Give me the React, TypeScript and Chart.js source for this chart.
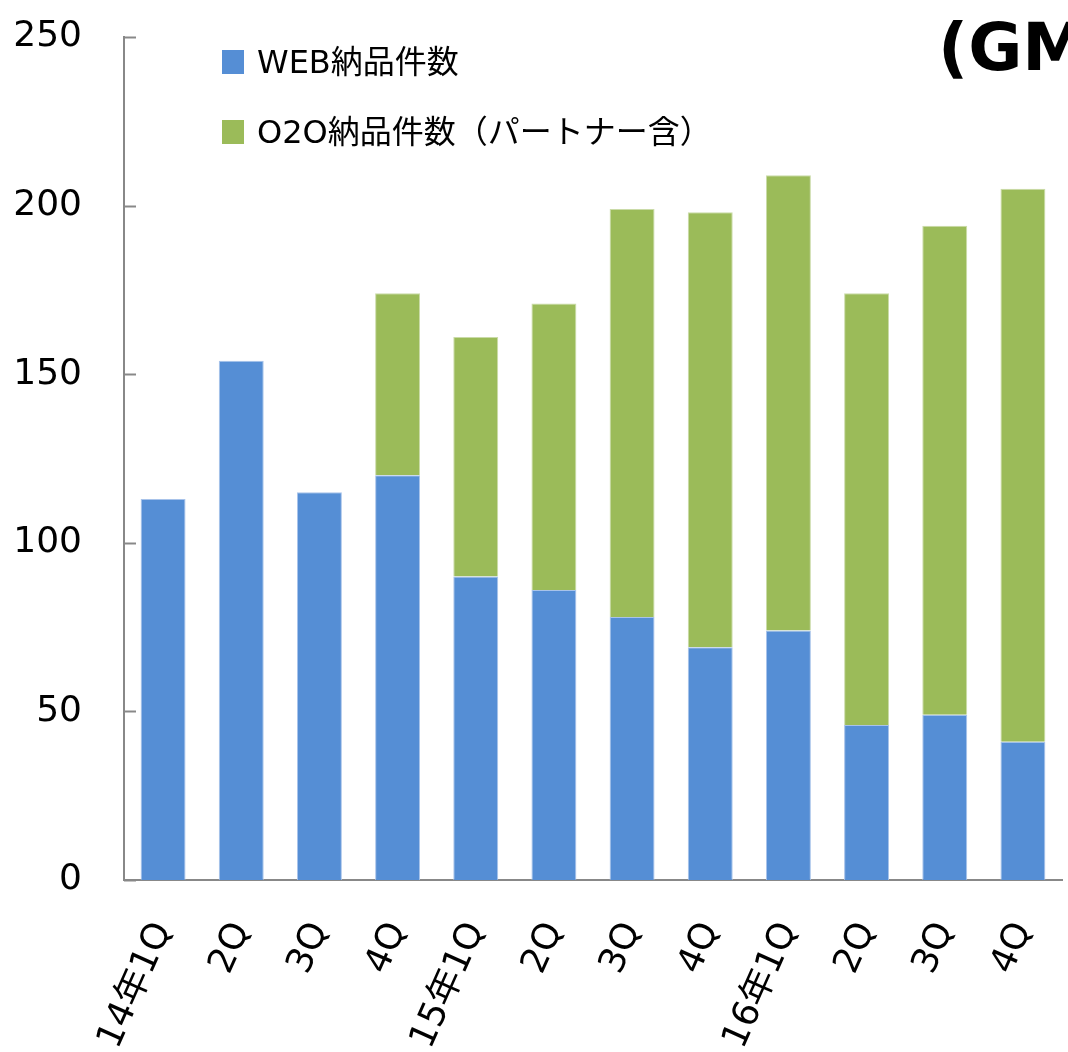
import React, { useEffect, useRef } from "react";
import { Chart, registerables } from "chart.js";

Chart.register(...registerables);

const categories = ["14年1Q", "2Q", "3Q", "4Q", "15年1Q", "2Q", "3Q", "4Q", "16年1Q", "2Q", "3Q", "4Q"];
const webValues = [113, 154, 115, 120, 90, 86, 78, 69, 74, 46, 49, 41];
const o2oValues = [0, 0, 0, 54, 71, 85, 121, 129, 135, 128, 145, 164];
const yTicks = [0, 50, 100, 150, 200, 250];
const seriesNames = ["WEB納品件数", "O2O納品件数（パートナー含）"];
const seriesColors = ["#558ED5", "#9BBB59"];
const titleText = "(GM";

const FONT = "'DejaVu Sans', 'Noto Sans CJK JP', sans-serif";

const innerTicks = {
  id: "innerTicks",
  afterDraw(chart: any) {
    const { ctx, scales, chartArea } = chart;
    const y = scales.y;
    ctx.save();
    ctx.strokeStyle = "#888888";
    ctx.lineWidth = 2;
    yTicks.forEach((v) => {
      const py = Math.round(y.getPixelForValue(v)) + 0.5;
      ctx.beginPath();
      ctx.moveTo(chartArea.left, py);
      ctx.lineTo(chartArea.left + 12, py);
      ctx.stroke();
    });
    ctx.restore();
  },
};

export default function App() {
  const ref = useRef<HTMLCanvasElement>(null);
  useEffect(() => {
    if (!ref.current) return;
    const chart = new Chart(ref.current, {
      type: "bar",
      data: {
        labels: categories,
        datasets: [
          {
            label: seriesNames[0],
            data: webValues,
            backgroundColor: seriesColors[0],
            borderColor: "#A8C3EA",
            borderWidth: 1,
          },
          {
            label: seriesNames[1],
            data: o2oValues,
            backgroundColor: seriesColors[1],
            borderColor: "#CADBA8",
            borderWidth: 1,
          },
        ],
      },
      options: {
        animation: false,
        responsive: false,
        layout: { padding: { top: 37, right: 6, left: 0, bottom: 0 } },
        plugins: { legend: { display: false }, tooltip: { enabled: false } },
        datasets: { bar: { categoryPercentage: 1, barPercentage: 0.575 } },
        scales: {
          x: {
            stacked: true,
            grid: { display: false },
            border: { color: "#888888", width: 2 },
            ticks: {
              color: "#000",
              font: { family: FONT, size: 36 },
              minRotation: 66,
              maxRotation: 66,
              padding: 28,
              autoSkip: false,
            },
            afterFit: (s: any) => {
              s.height = 172;
              s.paddingLeft = 0;
              s.paddingRight = 0;
              s.paddingTop = 0;
              s.paddingBottom = 0;
            },
          },
          y: {
            stacked: true,
            min: 0,
            max: 250,
            grid: { display: false },
            border: { color: "#888888", width: 2 },
            ticks: {
              color: "#000",
              font: { family: FONT, size: 36 },
              stepSize: 50,
              padding: 34,
            },
            afterFit: (s: any) => {
              s.width = 124;
              s.paddingTop = 0;
              s.paddingBottom = 0;
              s.paddingLeft = 0;
              s.paddingRight = 0;
            },
          },
        },
      },
      plugins: [innerTicks],
    });
    return () => chart.destroy();
  }, []);

  const legendRow = (i: number, top: number) => (
    <div key={i} style={{ position: "absolute", left: 222, top, display: "flex", alignItems: "center", whiteSpace: "nowrap" }}>
      <div style={{ width: 22, height: 24, background: seriesColors[i], marginRight: 13 }} />
      <span style={{ fontFamily: FONT, fontSize: 32, color: "#000", lineHeight: "40px" }}>{seriesNames[i]}</span>
    </div>
  );

  return (
    <div style={{ position: "absolute", left: 0, top: 0, width: 1068, height: 1052, overflow: "hidden", background: "#fff" }}>
      <canvas ref={ref} width={1068} height={1052} style={{ position: "absolute", left: 0, top: 0 }} />
      {legendRow(0, 42)}
      {legendRow(1, 112)}
      <div style={{ position: "absolute", left: 938, top: 8, fontFamily: FONT, fontWeight: "bold", fontSize: 66, color: "#000", whiteSpace: "nowrap", lineHeight: "80px" }}>
        {titleText}
      </div>
    </div>
  );
}
